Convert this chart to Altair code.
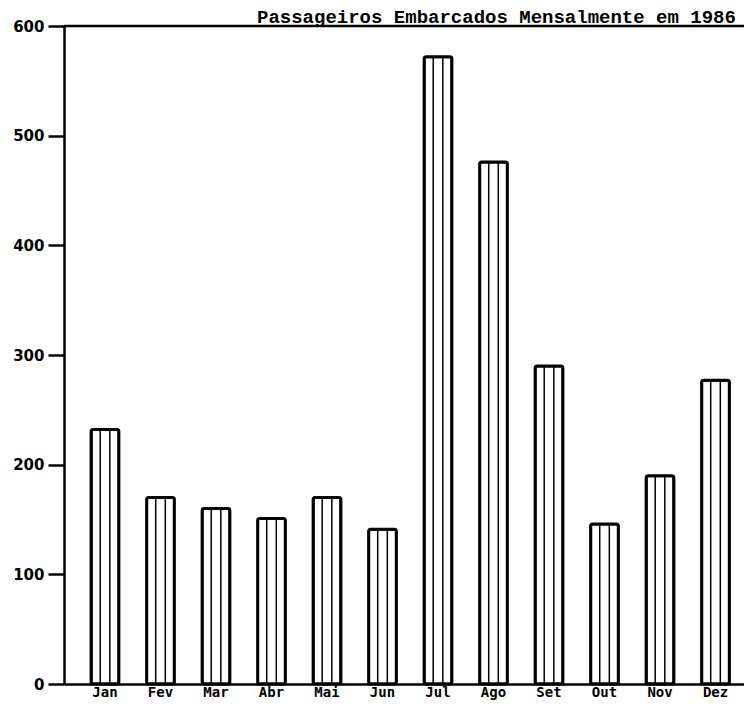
import altair as alt
import pandas as pd

# Data
meses = ["Jan", "Fev", "Mar", "Abr", "Mai", "Jun", "Jul", "Ago", "Set", "Out", "Nov", "Dez"]
passageiros = [232, 170, 160, 151, 170, 141, 572, 476, 290, 146, 190, 277]
y_ticks = [0, 100, 200, 300, 400, 500, 600]
titulo = "Passageiros Embarcados Mensalmente em 1986"

df = pd.DataFrame({"mes": meses, "passageiros": passageiros})
df_top = pd.DataFrame({"topo": [600]})

W, H = 680, 658

x_enc = alt.X(
    "mes:N",
    sort=meses,
    scale=alt.Scale(paddingInner=0.5, paddingOuter=0.376, align=0.65),
    axis=alt.Axis(
        title=None, labelAngle=0, ticks=False, domainWidth=2.5, domainColor="black",
        labelFont="DejaVu Sans Mono", labelFontWeight="bold", labelFontSize=14,
        labelColor="black", labelPadding=1,
    ),
)
y_enc = alt.Y(
    "passageiros:Q",
    scale=alt.Scale(domain=[0, 600], nice=False),
    axis=alt.Axis(
        title=None, values=y_ticks, grid=False, tickSize=16, tickWidth=2.5,
        tickColor="black", domainWidth=2.5, domainColor="black",
        labelFont="DejaVu Sans", labelFontWeight="bold", labelFontSize=15,
        labelColor="black", labelPadding=4,
    ),
)

bars = alt.Chart(df).mark_bar(
    fill="white", stroke="black", strokeWidth=3, cornerRadius=2
).encode(x=x_enc, y=y_enc)

inner_left = alt.Chart(df).mark_rule(xOffset=-4.8, strokeWidth=1.5, color="black").encode(
    x=x_enc, y=y_enc, y2=alt.datum(0)
)
inner_right = alt.Chart(df).mark_rule(xOffset=4.8, strokeWidth=1.5, color="black").encode(
    x=x_enc, y=y_enc, y2=alt.datum(0)
)

top_line = alt.Chart(df_top).mark_rule(strokeWidth=2.5, color="black").encode(
    y=alt.Y("topo:Q"), x=alt.value(0), x2=alt.value(W)
)

chart = alt.layer(bars, inner_left, inner_right, top_line).properties(
    width=W,
    height=H,
    title=alt.TitleParams(
        text=titulo, anchor="start", frame="group", dx=193, dy=23, offset=0,
        baseline="alphabetic", font="Liberation Mono", fontWeight="bold",
        fontSize=19, color="black",
    ),
    autosize=alt.AutoSizeParams(type="none"),
    padding={"left": 56, "top": 18, "right": 0, "bottom": 16},
).configure_view(stroke=None)

chart.save("out.html", embed_options={"renderer": "svg", "actions": False})
